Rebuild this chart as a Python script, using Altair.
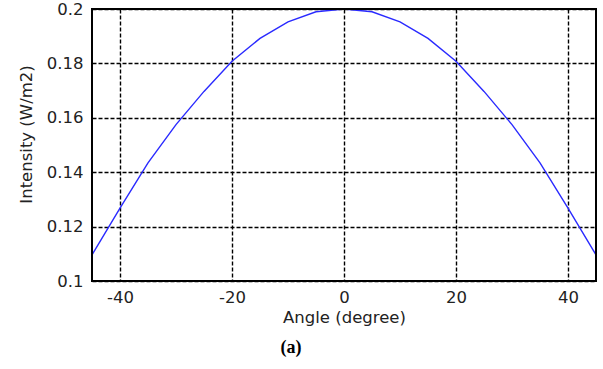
import altair as alt
import pandas as pd

angles = [-45, -40, -35, -30, -25, -20, -15, -10, -5, 0, 5, 10, 15, 20, 25, 30, 35, 40, 45]
intensity = [0.1096, 0.1268, 0.1434, 0.1575, 0.1697, 0.1808, 0.1892, 0.1953, 0.1990, 0.2000,
             0.1990, 0.1953, 0.1892, 0.1808, 0.1697, 0.1575, 0.1434, 0.1268, 0.1096]
x_ticks = [-40, -20, 0, 20, 40]
y_ticks = [0.1, 0.12, 0.14, 0.16, 0.18, 0.2]
caption = "(a)"

df = pd.DataFrame({"angle": angles, "intensity": intensity})

FONT = "DejaVu Sans"
W, H = 504, 272

x_enc = alt.X("angle:Q",
              scale=alt.Scale(domain=[-45, 45], nice=False, zero=False),
              axis=alt.Axis(values=x_ticks, title="Angle (degree)", labelFontSize=16.5,
                            titleFontSize=16.5, labelFont=FONT, titleFont=FONT,
                            titleFontWeight="normal", labelColor="#222", titleColor="#222",
                            labelPadding=8, titlePadding=4, tickSize=0, domain=False,
                            labelExpr="datum.value < 0 ? '-' + abs(datum.value) : '' + datum.value",
                            grid=True, gridColor="black", gridDash=[4, 2], gridWidth=1.4,
                            gridOpacity=1))
y_enc = alt.Y("intensity:Q",
              scale=alt.Scale(domain=[0.1, 0.2], nice=False, zero=False),
              axis=alt.Axis(values=y_ticks, title="Intensity (W/m2)", labelFontSize=16.5,
                            titleFontSize=16.5, labelFont=FONT, titleFont=FONT,
                            titleFontWeight="normal", labelColor="#222", titleColor="#222",
                            labelPadding=9, titleX=-66, titleY=125, titleAlign="center",
                            titleBaseline="middle", titleAngle=270,
                            tickSize=0, domain=False,
                            labelExpr="datum.value == 0.2 ? '0.2' : datum.value == 0.1 ? '0.1' : format(datum.value, '.2f')",
                            grid=True, gridColor="black", gridDash=[4, 2], gridWidth=1.4,
                            gridOpacity=1))

line = alt.Chart(df).mark_line(color="#2a2aff", strokeWidth=1.4, clip=True).encode(x=x_enc, y=y_enc)

frame = alt.Chart(pd.DataFrame({"f": [0]})).mark_rect(
    fill=None, fillOpacity=0, stroke="black", strokeWidth=2
).encode(x=alt.value(0), x2=alt.value(W), y=alt.value(0), y2=alt.value(H))

cap = alt.Chart(pd.DataFrame({"t": [caption]})).mark_text(
    font="Liberation Serif", fontSize=18, fontWeight="bold", color="black",
    baseline="middle", align="center"
).encode(text="t:N", x=alt.value(199), y=alt.value(339))

chart = alt.layer(line, frame, cap).properties(
    width=W, height=H,
    autosize=alt.AutoSizeParams(type="none"),
    padding={"left": 92, "top": 9, "right": 7, "bottom": 88},
).configure_view(stroke=None).configure(background="white")

chart.save("out.html", embed_options={"renderer": "svg", "actions": False})
